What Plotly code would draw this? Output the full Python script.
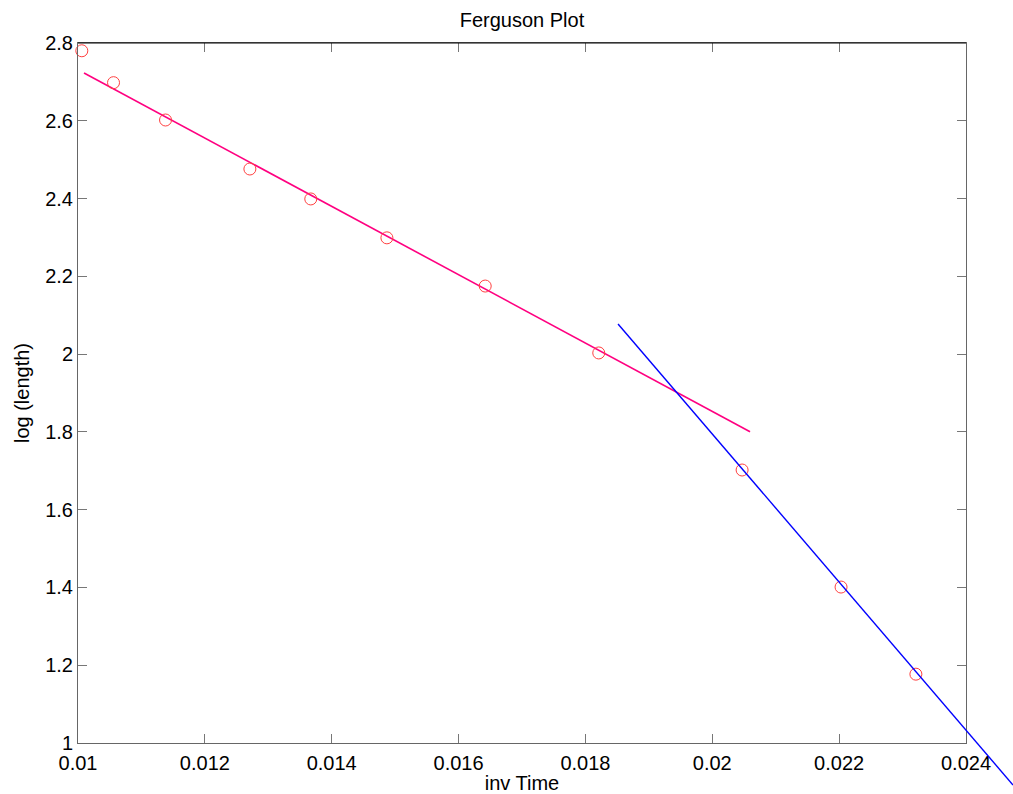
import plotly.graph_objects as go

# ---- data ----
inv_time = [0.01006, 0.01056, 0.01138, 0.01271, 0.01367, 0.01487,
            0.01642, 0.01821, 0.02047, 0.02203, 0.02321]
log_length = [2.780, 2.698, 2.602, 2.476, 2.399, 2.299,
              2.175, 2.003, 1.702, 1.401, 1.177]

fit1_x = [0.010095, 0.020595]
fit1_y = [2.7229, 1.8005]
fit2_x = [0.018514, 0.024741]
fit2_y = [2.0775, 0.892]

x_ticks = [0.01, 0.012, 0.014, 0.016, 0.018, 0.02, 0.022, 0.024]
y_ticks = [1, 1.2, 1.4, 1.6, 1.8, 2, 2.2, 2.4, 2.6, 2.8]

# ---- layout geometry ----
W, H = 1013, 794
L, R, T, B = 78, 966, 43, 743          # plot box in pixels
XMIN, XMAX = 0.01, 0.024
YMIN, YMAX = 1.0, 2.8
pxx = (R - L) / (XMAX - XMIN)
pxy = (B - T) / (YMAX - YMIN)

FONT = "Liberation Sans, Arial, sans-serif"
FS = 20

fig = go.Figure()

fig.add_trace(go.Scatter(x=fit1_x, y=fit1_y, mode="lines",
                         line=dict(color="#FF0080", width=1.6),
                         xaxis="x", yaxis="y", showlegend=False))
fig.add_trace(go.Scatter(x=inv_time, y=log_length, mode="markers",
                         marker=dict(symbol="circle-open", size=12,
                                     color="#FF4040", line=dict(width=1)),
                         cliponaxis=False,
                         xaxis="x", yaxis="y", showlegend=False))
# blue fit drawn on a full-figure overlay axis so it can run past the box
fig.add_trace(go.Scatter(x=fit2_x, y=fit2_y, mode="lines",
                         line=dict(color="#0000FF", width=1.4),
                         xaxis="x2", yaxis="y2", showlegend=False))

axis_common = dict(showgrid=False, zeroline=False, showline=True,
                   linecolor="#666666", linewidth=1, mirror="ticks",
                   ticks="inside", ticklen=9, tickcolor="#777777", tickwidth=1,
                   tickfont=dict(family=FONT, size=FS, color="black"))

fig.update_layout(
    width=W, height=H,
    margin=dict(l=0, r=0, t=0, b=0, autoexpand=False),
    paper_bgcolor="white", plot_bgcolor="rgba(0,0,0,0)",
    xaxis=dict(domain=[L / W, R / W], range=[XMIN, XMAX],
               tickvals=x_ticks, ticktext=[f"{v:g}" for v in x_ticks],
               ticklabelstandoff=2,
               title=dict(text="inv Time", standoff=5,
                          font=dict(family=FONT, size=FS, color="black")),
               anchor="y", **axis_common),
    yaxis=dict(domain=[1 - B / H, 1 - T / H], range=[YMIN, YMAX],
               tickvals=y_ticks, ticktext=[f"{v:g}" for v in y_ticks],
               title=dict(text="log (length)", standoff=10,
                          font=dict(family=FONT, size=FS, color="black")),
               anchor="x", **axis_common),
    xaxis2=dict(domain=[0, 1], range=[XMIN - L / pxx, XMIN + (W - L) / pxx],
                visible=False, anchor="y2"),
    yaxis2=dict(domain=[0, 1], range=[YMIN - (H - B) / pxy, YMAX + T / pxy],
                visible=False, anchor="x2"),
    title=dict(text="Ferguson Plot", x=(L + R) / 2 / W, xanchor="center",
               y=1 - 20 / H, yanchor="middle",
               font=dict(family=FONT, size=FS, color="black")),
    shapes=[dict(type="line", xref="paper", yref="paper",
                 x0=L / W, x1=R / W, y0=1 - T / H, y1=1 - T / H,
                 line=dict(color="black", width=1))],
)

fig.write_html("out.html")
